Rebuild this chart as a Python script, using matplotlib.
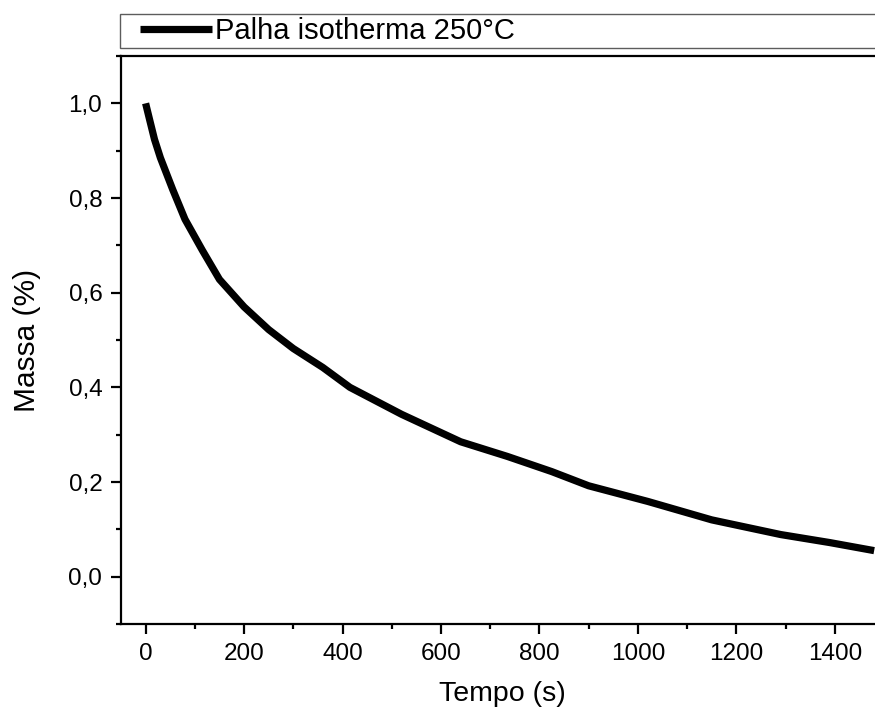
import matplotlib
matplotlib.use("Agg")
import matplotlib.pyplot as plt
from matplotlib.legend_handler import HandlerLine2D
from matplotlib.ticker import MultipleLocator

plt.rcParams['font.family'] = ['Liberation Sans', 'DejaVu Sans']

# Data
tempo = [0, 8, 18, 30, 55, 80, 115, 150, 200, 250, 300, 360, 415, 520, 640,
         735, 825, 900, 1020, 1150, 1290, 1390, 1480]
massa = [1.0, 0.966, 0.924, 0.885, 0.818, 0.755, 0.69, 0.628, 0.57, 0.522,
         0.482, 0.442, 0.40, 0.343, 0.285, 0.254, 0.222, 0.192, 0.159, 0.120,
         0.089, 0.072, 0.055]
serie_label = "Palha isotherma 250°C"
xticks = [0, 200, 400, 600, 800, 1000, 1200, 1400]
yticks = [0.0, 0.2, 0.4, 0.6, 0.8, 1.0]
yticklabels = ["0,0", "0,2", "0,4", "0,6", "0,8", "1,0"]

W, H = 875, 713
fig = plt.figure(figsize=(W / 100, H / 100), dpi=100)

left_px, right_px, top_px, bottom_px = 121, 884, 56, 624
ax = fig.add_axes([left_px / W, 1 - bottom_px / H,
                   (right_px - left_px) / W, (bottom_px - top_px) / H])

line, = ax.plot(tempo, massa, color='black', lw=5.2, solid_capstyle='butt',
                solid_joinstyle='round', label=serie_label)

ax.set_xlim(-50, 1500)
ax.set_ylim(-0.1, 1.1)
ax.set_xticks(xticks)
ax.set_xticklabels([str(v) for v in xticks])
ax.set_yticks(yticks)
ax.set_yticklabels(yticklabels)
ax.xaxis.set_minor_locator(MultipleLocator(100))
ax.yaxis.set_minor_locator(MultipleLocator(0.1))

for s in ['left', 'bottom', 'top', 'right']:
    ax.spines[s].set_linewidth(1.6)
ax.tick_params(which='both', direction='out', width=1.6, top=False, right=False)
ax.tick_params(which='major', length=7.5, labelsize=17.5, pad=6)
ax.tick_params(which='minor', length=3.5)

ax.set_xlabel("Tempo (s)", fontsize=20.5, labelpad=12)
ax.set_ylabel("Massa (%)", fontsize=21.5, labelpad=20)

# Legend box across the top
lx0, lx1, ly0, ly1 = 120, 900, 14, 48
leg = fig.legend(handles=[line], loc='lower left', mode='expand',
                 bbox_to_anchor=(lx0 / W, 1 - ly1 / H, (lx1 - lx0) / W, (ly1 - ly0) / H),
                 bbox_transform=fig.transFigure,
                 fontsize=21, handlelength=3.05, handletextpad=0.12,
                 borderpad=0.1, borderaxespad=0, fancybox=False, frameon=True,
                 handler_map={line: HandlerLine2D(xpad=0.6)})
leg.get_frame().set_edgecolor('#333333')
leg.get_frame().set_linewidth(1.0)

fig.savefig("out.png", dpi=100)
